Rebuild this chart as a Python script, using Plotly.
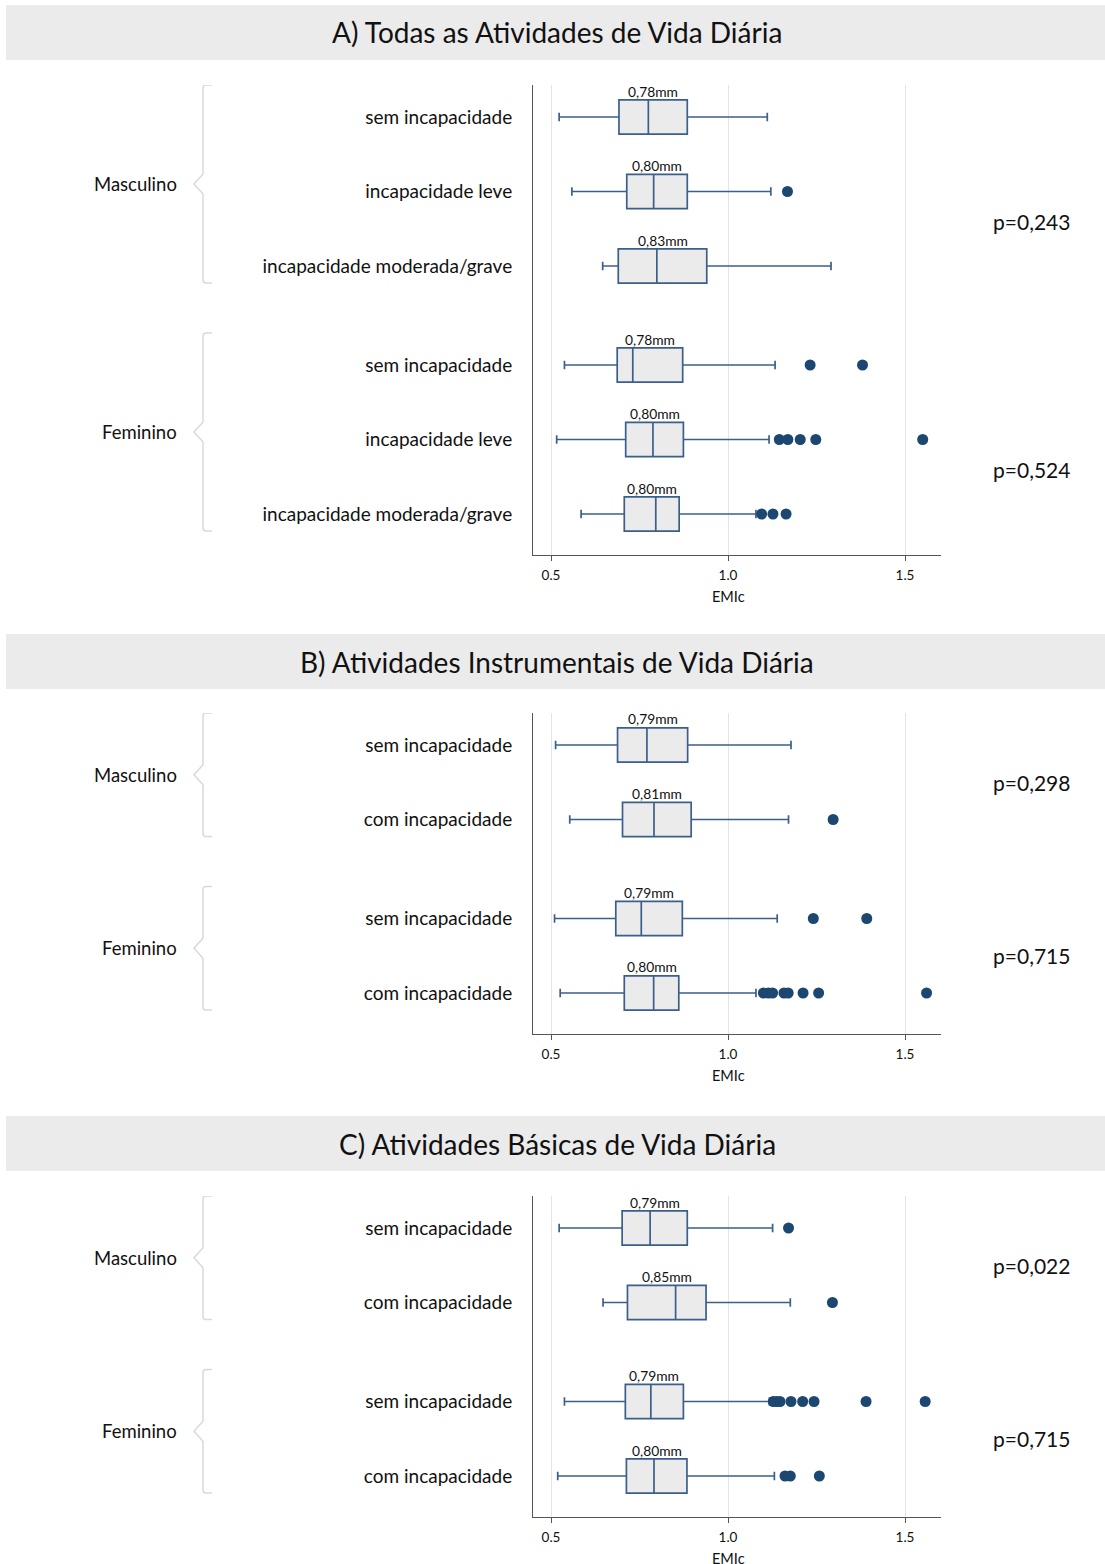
import plotly.graph_objects as go

W, H = 1105, 1564
FONT = "Lato"

# ---------------- data ----------------
panel_titles = ["A) Todas as Atividades de Vida Diária",
                "B) Atividades Instrumentais de Vida Diária",
                "C) Atividades Básicas de Vida Diária"]
groups = ["Masculino", "Feminino"]

A_cats = ["sem incapacidade", "incapacidade leve", "incapacidade moderada/grave"]
A_lower = [0.523, 0.559, 0.646, 0.538, 0.516, 0.585]
A_q1 = [0.692, 0.714, 0.690, 0.687, 0.711, 0.707]
A_med = [0.775, 0.790, 0.799, 0.731, 0.788, 0.796]
A_q3 = [0.885, 0.885, 0.940, 0.872, 0.874, 0.862]
A_upper = [1.111, 1.121, 1.291, 1.133, 1.116, 1.079]
A_out = [[], [1.168], [], [1.232, 1.380],
         [1.145, 1.169, 1.204, 1.248, 1.550], [1.095, 1.127, 1.164]]
A_lab = ["0,78mm", "0,80mm", "0,83mm", "0,78mm", "0,80mm", "0,80mm"]
A_p = ["p=0,243", "p=0,524"]

B_cats = ["sem incapacidade", "com incapacidade"]
B_lower = [0.513, 0.553, 0.510, 0.526]
B_q1 = [0.688, 0.702, 0.683, 0.707]
B_med = [0.771, 0.791, 0.755, 0.790]
B_q3 = [0.886, 0.896, 0.871, 0.861]
B_upper = [1.178, 1.171, 1.139, 1.079]
B_out = [[], [1.297], [1.241, 1.392],
         [1.100, 1.114, 1.126, 1.158, 1.170, 1.212, 1.256, 1.561]]
B_lab = ["0,79mm", "0,81mm", "0,79mm", "0,80mm"]
B_p = ["p=0,298", "p=0,715"]

C_cats = ["sem incapacidade", "com incapacidade"]
C_lower = [0.523, 0.647, 0.538, 0.519]
C_q1 = [0.701, 0.716, 0.710, 0.713]
C_med = [0.780, 0.852, 0.782, 0.791]
C_q3 = [0.885, 0.938, 0.874, 0.884]
C_upper = [1.126, 1.176, 1.117, 1.131]
C_out = [[1.171], [1.295],
         [1.128, 1.138, 1.147, 1.178, 1.211, 1.243, 1.390, 1.557],
         [1.161, 1.176, 1.258]]
C_lab = ["0,79mm", "0,85mm", "0,79mm", "0,80mm"]
C_p = ["p=0,022", "p=0,715"]

x_ticks = [0.5, 1.0, 1.5]
x_ticktext = ["0.5", "1.0", "1.5"]
x_title = "EMIc"

panels = [
    dict(title=panel_titles[0], cats=A_cats, lo=A_lower, q1=A_q1, med=A_med, q3=A_q3, hi=A_upper,
         out=A_out, lab=A_lab, p=A_p, top=85, band=5, pshift=-30),
    dict(title=panel_titles[1], cats=B_cats, lo=B_lower, q1=B_q1, med=B_med, q3=B_q3, hi=B_upper,
         out=B_out, lab=B_lab, p=B_p, top=713, band=634, pshift=0),
    dict(title=panel_titles[2], cats=C_cats, lo=C_lower, q1=C_q1, med=C_med, q3=C_q3, hi=C_upper,
         out=C_out, lab=C_lab, p=C_p, top=1196, band=1116, pshift=0),
]

# ---------------- style ----------------
ROW_PX = 74.5
GAP = 99 / ROW_PX - 1  # extra gap between groups (in rows)
TOP_PAD = 32 / ROW_PX
BOT_PAD = 41 / ROW_PX
X_RANGE = [0.5 - 18 / 354, 1.5 + 36 / 354]
BOX_LINE = "#3b5f8c"
BOX_FILL = "#ebebeb"
DOT = "#1c4770"
TXT = "#111111"
BRACE = "#d9d9d9"

def px(x):
    return x / W

def py(y):
    return 1 - y / H

fig = go.Figure()
layout_axes = {}
shapes = []
annotations = []

for k, P in enumerate(panels):
    n = len(P["cats"])
    pos = [i + (GAP if g == 1 else 0) + g * n for g in range(2) for i in range(n)]
    ticktext = [c for g in range(2) for c in P["cats"]]
    y0 = -TOP_PAD
    y1 = pos[-1] + BOT_PAD
    height_px = (y1 - y0) * ROW_PX
    top = P["top"]
    bottom = top + height_px
    xa = "x" if k == 0 else f"x{k+1}"
    ya = "y" if k == 0 else f"y{k+1}"
    xkey = "xaxis" if k == 0 else f"xaxis{k+1}"
    ykey = "yaxis" if k == 0 else f"yaxis{k+1}"

    for j in range(len(pos)):
        fig.add_trace(go.Box(
            y=[pos[j]], q1=[P["q1"][j]], median=[P["med"][j]], q3=[P["q3"][j]],
            lowerfence=[P["lo"][j]], upperfence=[P["hi"][j]],
            orientation="h", width=0.46, whiskerwidth=0.25,
            fillcolor=BOX_FILL, line=dict(color=BOX_LINE, width=1.7),
            boxpoints=False, showlegend=False, hoverinfo="skip",
            xaxis=xa, yaxis=ya))
        if P["out"][j]:
            fig.add_trace(go.Scatter(
                x=P["out"][j], y=[pos[j]] * len(P["out"][j]), mode="markers",
                marker=dict(color=DOT, size=11, line=dict(width=0)),
                showlegend=False, hoverinfo="skip", xaxis=xa, yaxis=ya))
        annotations.append(dict(
            x=(P["q1"][j] + P["q3"][j]) / 2, y=pos[j], xref=xa, yref=ya,
            text=P["lab"][j], showarrow=False, yshift=26,
            font=dict(family=FONT, size=13.8, color=TXT)))

    layout_axes[xkey] = dict(
        domain=[px(533), px(941)], range=X_RANGE, anchor=ya,
        tickvals=x_ticks, ticktext=x_ticktext, ticks="outside", ticklen=5,
        tickcolor="#555", showline=True, linecolor="#555", linewidth=1,
        showgrid=True, gridcolor="#e4e4e4", gridwidth=1, zeroline=False,
        ticklabelstandoff=3,
        tickfont=dict(family=FONT, size=13.5, color=TXT))
    layout_axes[ykey] = dict(
        domain=[py(bottom), py(top)], range=[y1, y0], anchor=xa,
        tickvals=pos, ticktext=ticktext, ticks="", ticklabelstandoff=16,
        showline=True, linecolor="#555", linewidth=1, showgrid=False, zeroline=False,
        tickfont=dict(family=FONT, size=19, color=TXT))

    # x-axis title centred under the middle tick
    annotations.append(dict(x=x_ticks[1], y=py(bottom + 41), xref=xa, yref="paper",
                            text=x_title, showarrow=False, xanchor="center", yanchor="middle",
                            font=dict(family=FONT, size=14.5, color=TXT)))

    # header band
    shapes.append(dict(type="rect", xref="paper", yref="paper",
                       x0=px(6), x1=px(1105), y0=py(P["band"] + 55), y1=py(P["band"]),
                       fillcolor="#ebebeb", line=dict(width=0), layer="below"))
    annotations.append(dict(x=px(557), y=py(P["band"] + 27.5), xref="paper", yref="paper",
                            text=P["title"], showarrow=False, xanchor="center", yanchor="middle",
                            font=dict(family=FONT, size=28, color=TXT)))

    # braces, group labels, p-values
    for g in range(2):
        gp = pos[g * n:(g + 1) * n]
        bt = gp[0] - 32 / ROW_PX
        bb = gp[-1] + 17 / ROW_PX
        bm = (bt + bb) / 2
        d = 10 / ROW_PX
        r = 3 / ROW_PX
        path = (f"M {px(212)},{bt} L {px(206)},{bt} Q {px(203)},{bt} {px(203)},{bt + r} "
                f"L {px(203)},{bm - d} L {px(194)},{bm} L {px(203)},{bm + d} "
                f"L {px(203)},{bb - r} Q {px(203)},{bb} {px(206)},{bb} L {px(212)},{bb}")
        shapes.append(dict(type="path", xref="paper", yref=ya, path=path,
                           line=dict(color=BRACE, width=1.5)))
        annotations.append(dict(x=px(179), y=bm, xref="paper", yref=ya, text=groups[g],
                                showarrow=False, xanchor="right", yanchor="middle",
                                font=dict(family=FONT, size=18.5, color=TXT)))
        annotations.append(dict(x=px(991), y=(gp[0] + gp[-1]) / 2, xref="paper", yref=ya,
                                text=P["p"][g], showarrow=False, xanchor="left",
                                yanchor="middle", yshift=P["pshift"],
                                font=dict(family=FONT, size=21, color=TXT)))

fig.update_layout(
    width=W, height=H, margin=dict(l=0, r=0, t=0, b=0),
    paper_bgcolor="white", plot_bgcolor="white",
    shapes=shapes, annotations=annotations, showlegend=False,
    font=dict(family=FONT, color=TXT), **layout_axes)

fig.write_html("out.html", config={"displayModeBar": False},
               post_script="document.body.style.margin='0';")
